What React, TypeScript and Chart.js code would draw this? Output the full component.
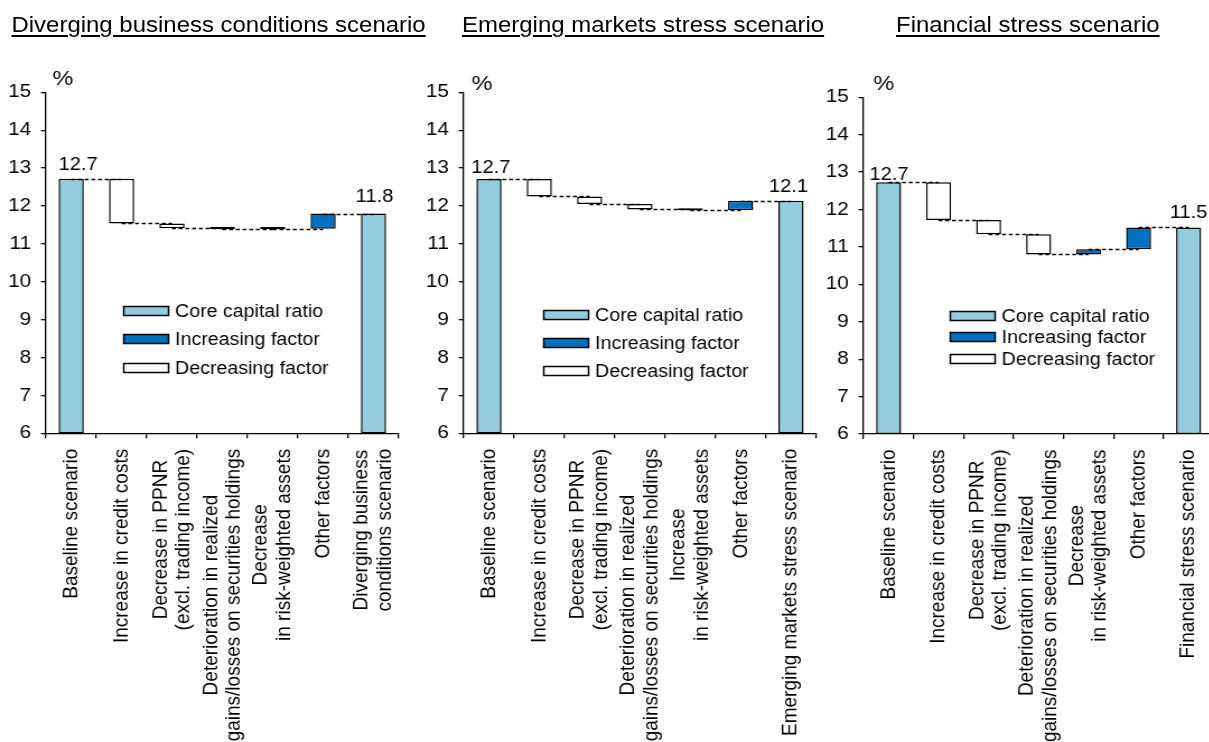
import React, { useEffect, useRef } from "react";
import { Chart, registerables } from "chart.js";

Chart.register(...registerables);

// ---------- data ----------
const titles = [
  "Diverging business conditions scenario",
  "Emerging markets stress scenario",
  "Financial stress scenario",
];

const categoriesDiverging = [
  ["Baseline scenario"],
  ["Increase in credit costs"],
  ["Decrease in PPNR", "(excl. trading income)"],
  ["Deterioration in realized", "gains/losses on securities holdings"],
  ["Decrease", "in risk-weighted assets"],
  ["Other factors"],
  ["Diverging business", "conditions scenario"],
];
const categoriesEmerging = [
  ["Baseline scenario"],
  ["Increase in credit costs"],
  ["Decrease in PPNR", "(excl. trading income)"],
  ["Deterioration in realized", "gains/losses on securities holdings"],
  ["Increase", "in risk-weighted assets"],
  ["Other factors"],
  ["Emerging markets stress scenario"],
];
const categoriesFinancial = [
  ["Baseline scenario"],
  ["Increase in credit costs"],
  ["Decrease in PPNR", "(excl. trading income)"],
  ["Deterioration in realized", "gains/losses on securities holdings"],
  ["Decrease", "in risk-weighted assets"],
  ["Other factors"],
  ["Financial stress scenario"],
];

// level of the core capital ratio after each step (first = baseline, last = scenario result)
const levelsDiverging = [12.72, 11.54, 11.41, 11.39, 11.4, 11.8, 11.8];
const levelsEmerging = [12.71, 12.25, 12.05, 11.91, 11.89, 12.14, 12.14];
const levelsFinancial = [12.73, 11.72, 11.34, 10.8, 10.94, 11.52, 11.52];

const yTicks = [6, 7, 8, 9, 10, 11, 12, 13, 14, 15];
const unitLabel = "%";
const legendLabels = ["Core capital ratio", "Increasing factor", "Decreasing factor"];

// ---------- styles ----------
const S = 1.12; // horizontal stretch of the whole picture
const FONT = '"Liberation Sans", Arial, Helvetica, sans-serif';
const COLOR_CORE = "#93CDDD";
const COLOR_UP = "#0070C0";
const COLOR_DOWN = "#FFFFFF";
const legendColors = [COLOR_CORE, COLOR_UP, COLOR_DOWN];

const panelStyles = [
  {
    area: { L: 45.7, R: 398.4, T: 92.3, B: 433.3 },
    titleX: 11.5,
    pct: { dx: 6.3, baseline: 84.5 },
    legend: { dx: 77, y0: 311, gap: 28.3 },
    valueLabels: [
      { dx: 7, dy: 9 },
      { dx: 1, dy: 11.5 },
    ],
  },
  {
    area: { L: 464.3, R: 816.7, T: 92.3, B: 433.3 },
    titleX: 462,
    pct: { dx: 7.7, baseline: 89.5 },
    legend: { dx: 79, y0: 314.5, gap: 28.3 },
    valueLabels: [
      { dx: 2, dy: 5.7 },
      { dx: -2.5, dy: 9 },
    ],
  },
  {
    area: { L: 863.3, R: 1213.3, T: 97.3, B: 434 },
    titleX: 896,
    pct: { dx: 9.7, baseline: 89.5 },
    legend: { dx: 85.7, y0: 315.7, gap: 21.5 },
    valueLabels: [
      { dx: 0.5, dy: 2.5 },
      { dx: 0, dy: 9.6 },
    ],
  },
];

const panelData = [
  { cats: categoriesDiverging, levels: levelsDiverging },
  { cats: categoriesEmerging, levels: levelsEmerging },
  { cats: categoriesFinancial, levels: levelsFinancial },
];

type PanelProps = { idx: number };

function Panel({ idx }: PanelProps) {
  const ref = useRef<HTMLCanvasElement | null>(null);
  const st = panelStyles[idx];
  const { cats, levels } = panelData[idx];
  const { L, R, T, B } = st.area;
  const leftU = (L - 46) / S;
  const widthU = Math.ceil((R - L + 52) / S);
  const yW = 46 / S;
  const areaW = (R - L) / S;
  const padR = widthU - yW - areaW;
  const H = 742;

  useEffect(() => {
    if (!ref.current) return;
    const yMin = yTicks[0];
    const last = levels.length - 1;
    const data = levels.map((v, i) =>
      i === 0 || i === last ? [yMin, v] : [levels[i - 1], v]
    );
    const colors = levels.map((v, i) =>
      i === 0 || i === last ? COLOR_CORE : v > levels[i - 1] ? COLOR_UP : COLOR_DOWN
    );

    const plugin = {
      id: "waterfallExtras" + idx,
      afterDatasetsDraw(chart: any) {
        const ctx = chart.ctx;
        const xs = chart.scales.x;
        const ys = chart.scales.y;
        ctx.save();
        // dashed connectors
        ctx.strokeStyle = "#000";
        ctx.lineWidth = 1.3;
        ctx.setLineDash([3.5, 2.5]);
        for (let i = 0; i < last; i++) {
          const yy = Math.round(ys.getPixelForValue(levels[i])) + 0.5;
          ctx.beginPath();
          ctx.moveTo(xs.getPixelForValue(i), yy);
          ctx.lineTo(xs.getPixelForValue(i + 1), yy);
          ctx.stroke();
        }
        ctx.setLineDash([]);
        // value labels on first and last bar
        ctx.fillStyle = "#000";
        ctx.font = `18px ${FONT}`;
        ctx.textAlign = "center";
        ctx.textBaseline = "alphabetic";
        [0, last].forEach((i, k) => {
          const vl = st.valueLabels[k];
          ctx.fillText(
            levels[i].toFixed(1),
            xs.getPixelForValue(i) + vl.dx / S,
            ys.getPixelForValue(levels[i]) - vl.dy
          );
        });
        ctx.restore();
      },
      afterDraw(chart: any) {
        const ctx = chart.ctx;
        const xs = chart.scales.x;
        const area = chart.chartArea;
        ctx.save();
        ctx.fillStyle = "#000";
        // category labels, rotated, lines centred
        ctx.font = `19px ${FONT}`;
        const lh = 20.5;
        cats.forEach((lines, i) => {
          const maxW = Math.max(...lines.map((t) => ctx.measureText(t).width));
          const cx = xs.getPixelForValue(i);
          const top = area.bottom + 15.5;
          ctx.save();
          ctx.translate(cx, top + maxW / 2);
          ctx.rotate(-Math.PI / 2);
          ctx.textAlign = "center";
          ctx.textBaseline = "middle";
          lines.forEach((t, j) => {
            ctx.fillText(t, 0, (j - (lines.length - 1) / 2) * lh);
          });
          ctx.restore();
        });
        // unit label
        ctx.font = `21px ${FONT}`;
        ctx.textAlign = "left";
        ctx.textBaseline = "alphabetic";
        ctx.fillText(unitLabel, area.left + st.pct.dx / S, st.pct.baseline);
        // legend
        const bx = Math.round(area.left + st.legend.dx / S) + 0.5;
        const bw = 40;
        const bh = 9;
        ctx.font = `17.5px ${FONT}`;
        ctx.textBaseline = "middle";
        legendLabels.forEach((lab, k) => {
          const cy = Math.round(st.legend.y0 + k * st.legend.gap);
          const by = cy - 4.5;
          ctx.fillStyle = legendColors[k];
          ctx.fillRect(bx, by, bw, bh);
          ctx.strokeStyle = "#000";
          ctx.lineWidth = 1.5;
          ctx.strokeRect(bx, by, bw, bh);
          ctx.fillStyle = "#000";
          ctx.fillText(lab, bx + bw + 5.8, cy + 1);
        });
        ctx.restore();
      },
    };

    const chart = new Chart(ref.current, {
      type: "bar",
      data: {
        labels: cats.map((c) => c.join(" ")),
        datasets: [
          {
            data: data as any,
            backgroundColor: colors,
            borderColor: "#000",
            borderWidth: 1.5,
            borderSkipped: false,
            barPercentage: 0.5,
            categoryPercentage: 1,
            minBarLength: 2,
          },
        ],
      },
      options: {
        responsive: false,
        animation: false,
        devicePixelRatio: 1,
        layout: { padding: { left: 0, right: padR, top: T, bottom: 0 } },
        plugins: {
          legend: { display: false },
          tooltip: { enabled: false },
          title: { display: false },
        },
        scales: {
          x: {
            type: "category",
            offset: true,
            grid: {
              offset: true,
              drawOnChartArea: false,
              drawTicks: true,
              tickLength: 5,
              color: "#000",
              lineWidth: 1.3,
            },
            border: { color: "#000", width: 1.3 },
            ticks: { display: false },
            afterFit: (scale: any) => {
              scale.height = H - B;
            },
          },
          y: {
            min: yTicks[0],
            max: yTicks[yTicks.length - 1],
            ticks: {
              stepSize: 1,
              color: "#000",
              font: { family: FONT, size: 18.5 },
              padding: 8.8,
            },
            grid: {
              drawOnChartArea: false,
              drawTicks: true,
              tickLength: 4.5,
              color: "#000",
              lineWidth: 1.3,
            },
            border: { color: "#000", width: 1.3 },
            afterFit: (scale: any) => {
              scale.width = yW;
            },
          },
        },
      },
      plugins: [plugin],
    });
    return () => chart.destroy();
  }, [idx]);

  return (
    <canvas
      ref={ref}
      width={widthU}
      height={H}
      style={{ position: "absolute", left: leftU, top: 0, width: widthU, height: H }}
    />
  );
}

export default function App() {
  return (
    <div
      style={{
        position: "fixed",
        left: 0,
        top: 0,
        width: 1209,
        height: 742,
        overflow: "hidden",
        background: "#fff",
      }}
    >
      <div
        style={{
          position: "absolute",
          left: 0,
          top: 0,
          width: 1209 / S,
          height: 742,
          transform: `scaleX(${S})`,
          transformOrigin: "0 0",
        }}
      >
        {titles.map((t, i) => (
          <div
            key={t}
            style={{
              position: "absolute",
              left: panelStyles[i].titleX / S,
              top: 15.2,
              font: `21.4px ${FONT}`,
              lineHeight: "21.4px",
              color: "#000",
              whiteSpace: "nowrap",
              textDecoration: "underline",
              textDecorationThickness: "2px",
              textUnderlineOffset: "3px",
            }}
          >
            {t}
          </div>
        ))}
        {[0, 1, 2].map((i) => (
          <Panel key={i} idx={i} />
        ))}
      </div>
    </div>
  );
}
